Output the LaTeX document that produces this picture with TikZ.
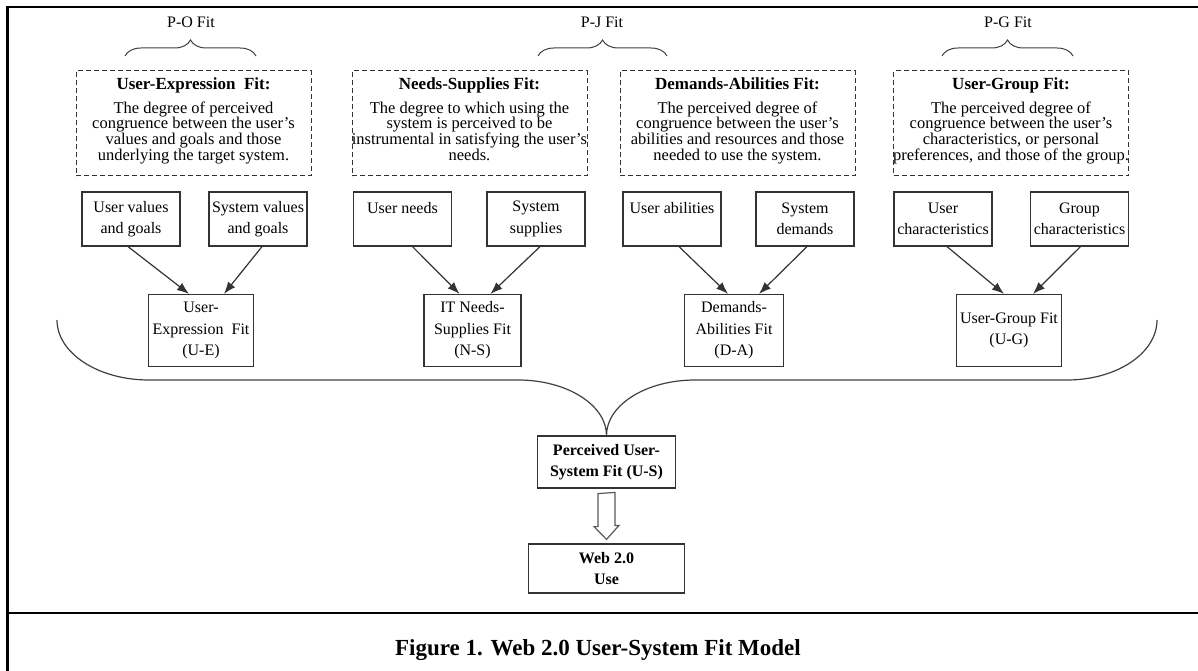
\documentclass[tikz,border=0pt]{standalone}
\usepackage{fontspec}
\setmainfont{Liberation Serif}
\usetikzlibrary{arrows.meta,decorations.pathreplacing}

\newcommand{\descsize}{\fontsize{16.5}{15.7}\selectfont}
\newcommand{\boxsize}{\fontsize{16}{21.5}\selectfont}

\tikzset{
  frameline/.style={line width=2.5pt},
  defbox/.style={draw=black!80, dash pattern=on 5pt off 3pt, line width=1pt, minimum width=235pt, minimum height=105pt, inner sep=0pt},
  deftext/.style={align=center, inner sep=0pt, font=\descsize, anchor=north},
  itembox/.style={draw=black!80, line width=1.2pt, minimum width=98pt, minimum height=54pt, inner sep=0pt, align=center, font=\boxsize},
  fitbox/.style={draw=black!80, line width=1.2pt, minimum height=72pt, inner sep=0pt, align=center, font=\boxsize},
  outbox/.style={draw=black!80, line width=1.2pt, inner sep=0pt, align=center, font=\boxsize\bfseries},
  arr/.style={-{Latex[length=12pt,width=9pt]}, line width=1.2pt, draw=black!80},
  curly/.style={decorate, decoration={brace, amplitude=16pt}, line width=1pt, draw=black!75},
  grouplabel/.style={font=\fontsize{16}{18}\selectfont, inner sep=0pt},
}

\begin{document}
\begin{tikzpicture}[x=1pt, y=-1pt]
    \useasboundingbox (0,0) rectangle (1198,671);

    % frame and caption rule
    \draw[frameline] (1200,7) -- (7.5,7) -- (7.5,673);
    \draw[frameline] (7.5,613) -- (1200,613);

    % fit groups
    \node[grouplabel] (po) at (191,22) {P-O Fit};
    \node[grouplabel] (pj) at (602,22) {P-J Fit};
    \node[grouplabel] (pg) at (1008,22) {P-G Fit};
    \draw[curly] (125,56) -- (256,56);
    \draw[curly] (538,56) -- (667,56);
    \draw[curly] (942,56) -- (1073,56);

    % definitions
    \node[defbox] (uebox) at (193.5,123.5) {};
    \node[defbox] (nsbox) at (469.5,123.5) {};
    \node[defbox] (dabox) at (737.5,123.5) {};
    \node[defbox] (ugbox) at (1011,123.5) {};
    \node[deftext] (uetext) at ([yshift=-7pt]uebox.north) {{\fontsize{17}{17}\selectfont\bfseries User-Expression\ \ Fit:}\\[8pt]The degree of perceived\\congruence between the user's\\values and goals and those\\underlying the target system.};
    \node[deftext] (nstext) at ([yshift=-7pt]nsbox.north) {{\fontsize{17}{17}\selectfont\bfseries Needs-Supplies Fit:}\\[8pt]The degree to which using the\\system is perceived to be\\instrumental in satisfying the user's\\needs.};
    \node[deftext] (datext) at ([yshift=-7pt]dabox.north) {{\fontsize{17}{17}\selectfont\bfseries Demands-Abilities Fit:}\\[8pt]The perceived degree of\\congruence between the user's\\abilities and resources and those\\needed to use the system.};
    \node[deftext] (ugtext) at ([yshift=-7pt]ugbox.north) {{\fontsize{17}{17}\selectfont\bfseries User-Group Fit:}\\[8pt]The perceived degree of\\congruence between the user's\\characteristics, or personal\\preferences, and those of the group.};

    % components
    \node[itembox] (uval) at (131,219) {User values\\and goals};
    \node[itembox] (sval) at (258,219) {System values\\and goals};
    \node[itembox] (uneed) at (402.5,219) {User needs\\\mbox{}};
    \node[itembox] (ssup) at (536,219) {System\\supplies};
    \node[itembox] (uabil) at (672,219) {User abilities\\\mbox{}};
    \node[itembox] (sdem) at (805,219) {System\\demands};
    \node[itembox] (uchar) at (943,219) {User\\characteristics};
    \node[itembox] (gchar) at (1079.5,219) {Group\\characteristics};

    % fit constructs
    \node[fitbox, minimum width=105pt] (ue) at (201,330.5) {User-\\Expression\ \ Fit\\(U-E)};
    \node[fitbox, minimum width=97pt] (ns) at (472.5,330.5) {IT Needs-\\Supplies Fit\\(N-S)};
    \node[fitbox, minimum width=99pt] (da) at (734,330.5) {Demands-\\Abilities Fit\\(D-A)};
    \node[fitbox, minimum width=105pt] (ug) at (1009,330.5) {User-Group Fit\\(U-G)};

    \draw[arr] ([xshift=-3pt]uval.south) -- ([xshift=-12pt]ue.north);
    \draw[arr] ([xshift=4pt]sval.south) -- ([xshift=23pt]ue.north);
    \draw[arr] ([xshift=10pt]uneed.south) -- ([xshift=-13pt]ns.north);
    \draw[arr] ([xshift=4pt]ssup.south) -- ([xshift=18pt]ns.north);
    \draw[arr] ([xshift=7pt]uabil.south) -- ([xshift=-6pt]da.north);
    \draw[arr] ([xshift=2pt]sdem.south) -- ([xshift=25pt]da.north);
    \draw[arr] ([xshift=4pt]uchar.south) -- ([xshift=-5pt]ug.north);
    \draw[arr] ([xshift=1pt]gchar.south) -- ([xshift=24pt]ug.north);

    % overall fit and use
    \node[outbox, minimum width=138pt, minimum height=52pt] (us) at (606.5,462) {Perceived User-\\System Fit (U-S)};
    \node[outbox, minimum width=156pt, minimum height=49pt] (web) at (606.5,568.5) {Web 2.0\\Use};

    % big brace joining the four fits
    \draw[line width=1.2pt, draw=black!75] (57,320) .. controls (57,353) and (98,380) .. (149,380) -- (518,380)
        .. controls (567,380) and (606.5,405) .. (us.north)
        .. controls (606.5,405) and (646,380) .. (695,380) -- (1067,380)
        .. controls (1117,380) and (1157,353) .. (1157,320);

    % hollow arrow
    \draw[line width=1.2pt, draw=black!65, fill=white] ([xshift=-8.5pt,yshift=-5pt]us.south) -- ++(0,33) -- ++(-4,0)
        -- ([yshift=4pt]web.north) -- ++(12.5,-14) -- ++(-4,0) -- ++(0,-33) -- cycle;

    \node[font=\fontsize{23}{26}\selectfont\bfseries, inner sep=0pt] (caption) at (598,650) {Figure 1. Web 2.0 User-System Fit Model};
\end{tikzpicture}
\end{document}
